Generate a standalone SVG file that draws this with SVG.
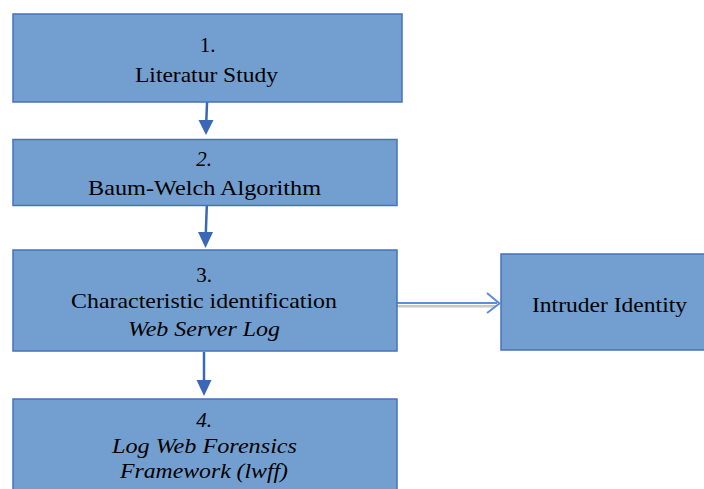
<svg xmlns="http://www.w3.org/2000/svg" width="704" height="489" viewBox="0 0 704 489">
<style>
.box{fill:#729fcf;stroke:#4672bd;stroke-width:1.5}
.t{font-family:"Liberation Serif","Times New Roman",serif;font-size:21px;fill:#000;text-anchor:middle}
.i{font-style:italic}
.arr{stroke:#3a68b4;stroke-width:2.5;fill:none}
.head{fill:#3a68b4}
</style>
<rect width="704" height="489" fill="#fff"/>
<g id="connectors">
<line class="arr" x1="207.5" y1="91" x2="206.3" y2="121"/>
<polygon class="head" points="198.5,120 213.5,120 206,135"/>
<line class="arr" x1="206.8" y1="206" x2="205.8" y2="233"/>
<polygon class="head" points="198,232 213,232 205.5,248"/>
<line class="arr" x1="204" y1="352" x2="204" y2="381"/>
<polygon class="head" points="196.5,380 211.5,380 204,396"/>
<line x1="397" y1="306.3" x2="496" y2="306.3" stroke="#c8c8c8" stroke-width="2.5"/>
<line x1="397" y1="303" x2="497" y2="303" stroke="#5b8fd6" stroke-width="2"/>
<polyline points="487,293 499.5,303.5 487,313" fill="none" stroke="#5b8fd6" stroke-width="2"/>
</g>
<g id="n1">
<rect class="box" x="13" y="14" width="389" height="88"/>
<text class="t" x="207.5" y="52">1.</text>
<text class="t" x="206.5" y="82" textLength="143" lengthAdjust="spacingAndGlyphs">Literatur Study</text>
</g>
<g id="n2">
<rect class="box" x="13" y="139.5" width="384" height="66"/>
<text class="t i" x="204" y="166">2.</text>
<text class="t" x="204.5" y="195" textLength="233" lengthAdjust="spacingAndGlyphs">Baum-Welch Algorithm</text>
</g>
<g id="n3">
<rect class="box" x="13" y="250" width="384" height="101"/>
<text class="t" x="204" y="281.5">3.</text>
<text class="t" x="204" y="308" textLength="266" lengthAdjust="spacingAndGlyphs">Characteristic identification</text>
<text class="t i" x="204" y="335.5" textLength="152" lengthAdjust="spacingAndGlyphs">Web Server Log</text>
</g>
<g id="n4">
<rect class="box" x="13" y="399" width="384" height="100"/>
<text class="t i" x="204" y="427">4.</text>
<text class="t i" x="204.5" y="453" textLength="185" lengthAdjust="spacingAndGlyphs">Log Web Forensics</text>
<text class="t i" x="204" y="477.5" textLength="168" lengthAdjust="spacingAndGlyphs">Framework (lwff)</text>
</g>
<g id="n5">
<rect class="box" x="501" y="254" width="210" height="96"/>
<text class="t" x="609.5" y="311.5" textLength="155" lengthAdjust="spacingAndGlyphs">Intruder Identity</text>
</g>
</svg>
